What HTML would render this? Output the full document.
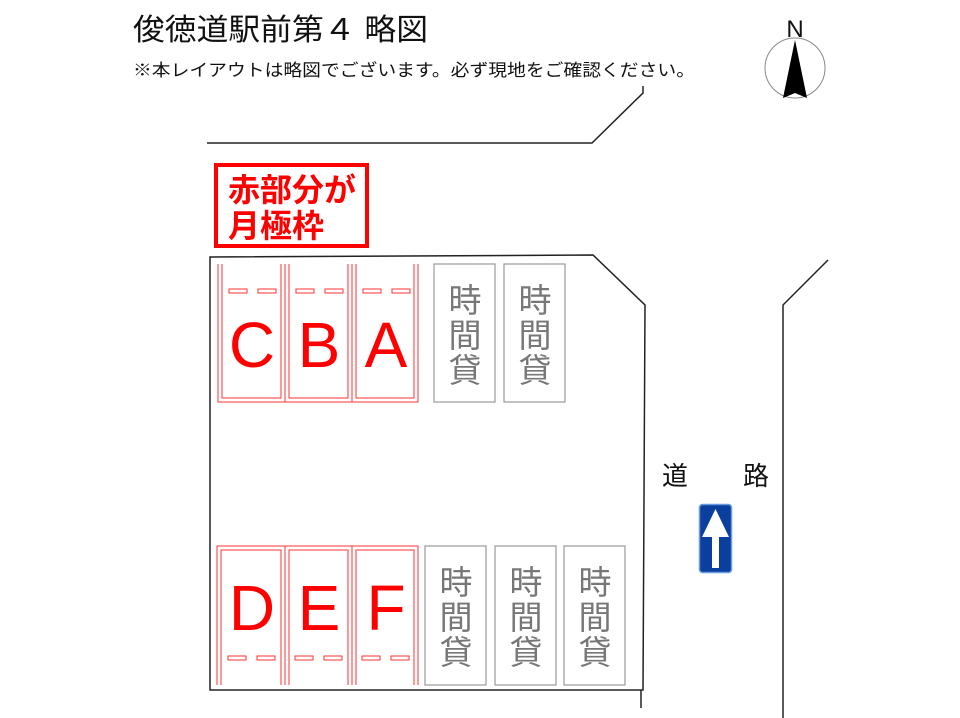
<!DOCTYPE html>
<html><head><meta charset="utf-8"><style>
html,body{margin:0;padding:0;background:#fff;}
svg{display:block;}
text{font-family:"Liberation Sans","Noto Sans CJK JP",sans-serif;}
</style></head><body>
<svg width="960" height="718" viewBox="0 0 960 718" xmlns="http://www.w3.org/2000/svg">
<text x="133" y="40" font-size="30" fill="#111" textLength="295" lengthAdjust="spacingAndGlyphs">俊徳道駅前第４ 略図</text>
<text x="133" y="76" font-size="17" fill="#111" textLength="562" lengthAdjust="spacingAndGlyphs">※本レイアウトは略図でございます。必ず現地をご確認ください。</text>
<circle cx="795" cy="68" r="30" fill="none" stroke="#888" stroke-width="1"/>
<text x="795" y="37" font-size="24" text-anchor="middle" fill="#111">N</text>
<path d="M795 40 L807 98 L795 93 L783 98 Z" fill="#000"/>
<g fill="none" stroke="#222" stroke-width="1.5">
<path d="M207 143 L592 143 L643 93 L643 86"/>
<path d="M210 257 L593 255 L645 305 L643 690 L210 690 Z"/>
<path d="M641 690 L641 708"/>
<path d="M828 260 L783 305 L783 718"/>
</g>
<rect x="216" y="165" width="151" height="81" fill="none" stroke="#f00" stroke-width="4"/>
<text x="228" y="201" font-size="32" fill="#f00" font-weight="bold" textLength="128" lengthAdjust="spacingAndGlyphs">赤部分が</text>
<text x="228" y="237" font-size="32" fill="#f00" font-weight="bold" textLength="96" lengthAdjust="spacingAndGlyphs">月極枠</text>
<g fill="none" stroke="#f33" stroke-width="1">
<path d="M218 264 V402 H285 V264 M222 264 V398 H281 V264"/>
<path d="M285 264 V402 H352 V264 M289 264 V398 H348 V264"/>
<path d="M352 264 V402 H418 V264 M356 264 V398 H414 V264"/>
<rect x="229" y="289" width="18" height="4"/><rect x="258" y="289" width="18" height="4"/>
<rect x="296" y="289" width="18" height="4"/><rect x="325" y="289" width="18" height="4"/>
<rect x="363" y="289" width="18" height="4"/><rect x="392" y="289" width="18" height="4"/>
</g>
<g font-size="64" fill="#f00" text-anchor="middle">
<text x="252" y="367">C</text><text x="319" y="367">B</text><text x="386" y="367">A</text>
</g>
<g fill="none" stroke="#f33" stroke-width="1">
<path d="M217 685 V546 H285 V685 M221 685 V550 H281 V685"/>
<path d="M285 685 V546 H352 V685 M289 685 V550 H348 V685"/>
<path d="M352 685 V546 H418 V685 M356 685 V550 H414 V685"/>
<rect x="228" y="656" width="18" height="4"/><rect x="257" y="656" width="18" height="4"/>
<rect x="295" y="656" width="18" height="4"/><rect x="324" y="656" width="18" height="4"/>
<rect x="362" y="656" width="18" height="4"/><rect x="391" y="656" width="18" height="4"/>
</g>
<g font-size="64" fill="#f00" text-anchor="middle">
<text x="252" y="630">D</text><text x="319" y="630">E</text><text x="386" y="630">F</text>
</g>
<g fill="none" stroke="#999" stroke-width="1.2">
<rect x="434" y="264" width="61" height="138"/>
<rect x="504" y="264" width="61" height="138"/>
<rect x="425" y="546" width="61" height="139"/>
<rect x="495" y="546" width="61" height="139"/>
<rect x="564" y="546" width="61" height="139"/>
</g>
<g font-size="33" fill="#777" text-anchor="middle">
<text x="465" y="312">時</text><text x="465" y="347">間</text><text x="465" y="382">貸</text>
<text x="535" y="312">時</text><text x="535" y="347">間</text><text x="535" y="382">貸</text>
<text x="456" y="594">時</text><text x="456" y="629">間</text><text x="456" y="664">貸</text>
<text x="526" y="594">時</text><text x="526" y="629">間</text><text x="526" y="664">貸</text>
<text x="595" y="594">時</text><text x="595" y="629">間</text><text x="595" y="664">貸</text>
</g>
<text x="675" y="485" font-size="26" fill="#111" text-anchor="middle">道</text>
<text x="756" y="485" font-size="26" fill="#111" text-anchor="middle">路</text>
<rect x="699.5" y="504.5" width="32" height="68" rx="3" fill="#0a3f9e" stroke="#6b9be0" stroke-width="1.5"/>
<path d="M715.5 509 L729 537 L719 537 L719 568 L712 568 L712 537 L702 537 Z" fill="#fff"/>
</svg>
</body></html>
